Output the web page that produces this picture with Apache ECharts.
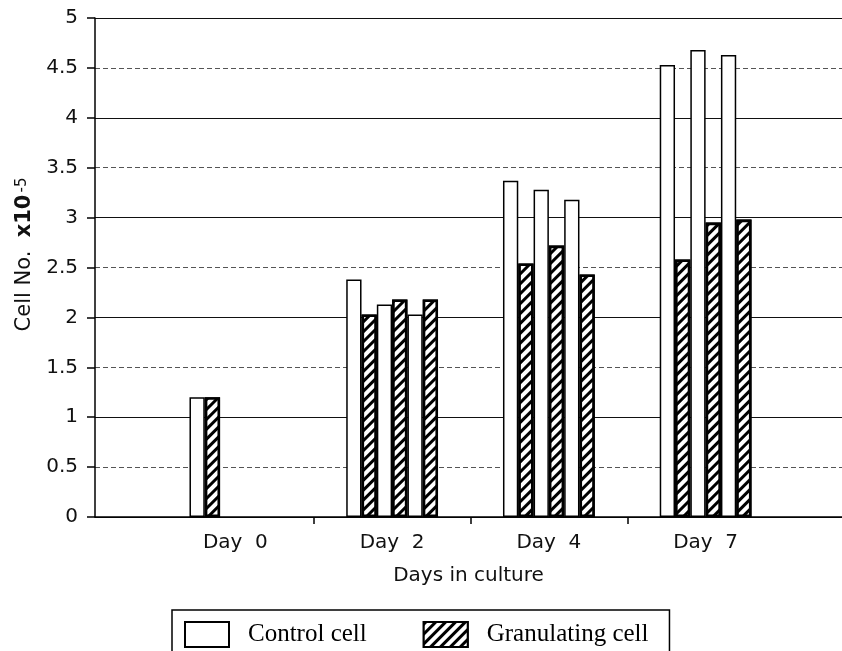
<!DOCTYPE html>
<html><head><meta charset="utf-8">
<script src="https://cdn.jsdelivr.net/npm/echarts@6/dist/echarts.min.js"></script>
<style>html,body{margin:0;padding:0;background:#fff}#c{width:842px;height:651px}</style>
</head><body><div id="c"></div>
<script>
// ---- data ----
const categories = ['Day 0', 'Day 2', 'Day 4', 'Day 7'];
const controlA = [1.20, 2.38, 3.37, 4.53];
const granA    = [1.20, 2.03, 2.54, 2.58];
const controlB = [null, 2.13, 3.28, 4.68];
const granB    = [null, 2.18, 2.72, 2.95];
const controlC = [null, 2.03, 3.18, 4.63];
const granC    = [null, 2.18, 2.43, 2.98];
const boundaryTicks = [1, 2, 3];

// ---- layout ----
const W = 842;
const plotLeft = 95, plotTop = 18, plotBottom = 134;
const bandLeft = 157, bandRight = 58;
const bandPx = (W - bandLeft - bandRight) / categories.length;
const xMin = -(bandLeft - plotLeft) / bandPx;
const xMax = categories.length + bandRight / bandPx;
const BW = 15.3;
const sansFont = 'DejaVu Sans';

const chart = echarts.init(document.getElementById('c'), null, {renderer: 'canvas'});

const hatch = {
  symbol: 'rect', symbolSize: 1, color: '#000', backgroundColor: '#fff',
  dashArrayX: [1, 0], dashArrayY: [2.8, 3.6], rotation: -Math.PI / 4
};
function ctrl(data) {
  return {type: 'bar', name: 'Control cell', xAxisIndex: 1, yAxisIndex: 2, data: data,
    barWidth: BW, barGap: '0%',
    itemStyle: {color: '#fff', borderColor: '#000', borderWidth: 1.5}};
}
function gran(data) {
  return {type: 'bar', name: 'Granulating cell', xAxisIndex: 1, yAxisIndex: 2, data: data,
    barWidth: BW, barGap: '0%',
    itemStyle: {color: '#fff', borderColor: '#000', borderWidth: 2.6, decal: hatch}};
}

chart.setOption({
  animation: false,
  backgroundColor: '#fff',
  grid: [
    {left: plotLeft, right: 0, top: plotTop, bottom: plotBottom},
    {left: bandLeft, right: bandRight, top: plotTop, bottom: plotBottom}
  ],
  xAxis: [
    {gridIndex: 0, type: 'value', min: xMin, max: xMax,
      axisLine: {show: true, onZero: false, lineStyle: {color: '#000', width: 1.5}},
      axisTick: {show: true, customValues: boundaryTicks, length: 7, lineStyle: {color: '#000', width: 1.5}},
      axisLabel: {show: false}, splitLine: {show: false},
      name: 'Days in culture', nameLocation: 'middle', nameGap: 49,
      nameTextStyle: {fontFamily: sansFont, fontSize: 20, color: '#111'}},
    {gridIndex: 1, type: 'category', data: categories,
      axisLine: {show: false}, axisTick: {show: false},
      axisLabel: {margin: 16, fontFamily: sansFont, fontSize: 20, color: '#111',
        formatter: function (v) { return v.replace(' ', '  '); }}}
  ],
  yAxis: [
    {gridIndex: 0, type: 'value', min: 0, max: 5, interval: 0.5,
      axisLine: {show: true, onZero: false, lineStyle: {color: '#000', width: 1.5}},
      axisTick: {show: true, length: 8, lineStyle: {color: '#000', width: 1.5}},
      axisLabel: {margin: 17, fontFamily: sansFont, fontSize: 20, color: '#111'},
      splitLine: {show: true, lineStyle: {color: '#555', width: 1, type: [5, 3]}},
      name: 'Cell No.  {b|x10}{s|-5}', nameLocation: 'middle', nameGap: 58,
      nameTextStyle: {fontFamily: sansFont, fontSize: 21, color: '#111', padding: [0, 0, 0, 26],
        rich: {
          b: {fontFamily: sansFont, fontSize: 21, fontWeight: 'bold', color: '#111'},
          s: {fontFamily: sansFont, fontSize: 15, color: '#111', verticalAlign: 'top', padding: [0, 0, 0, 2]}
        }}},
    {gridIndex: 0, type: 'value', min: 0, max: 5, interval: 1,
      axisLine: {show: false}, axisTick: {show: false}, axisLabel: {show: false},
      splitLine: {show: true, lineStyle: {color: '#111', width: 1.2}}},
    {gridIndex: 1, type: 'value', min: 0, max: 5, show: false}
  ],
  legend: {
    data: ['Control cell', 'Granulating cell'], icon: 'rect',
    left: 172, top: 610, itemWidth: 44, itemHeight: 25, itemGap: 56,
    padding: [11, 21, 14, 12], borderColor: '#000', borderWidth: 1.5,
    textStyle: {fontFamily: 'Liberation Serif', fontSize: 25, color: '#000', padding: [0, 0, 0, 14]}
  },
  series: [ctrl(controlA), gran(granA), ctrl(controlB), gran(granB), ctrl(controlC), gran(granC)]
});
</script></body></html>
